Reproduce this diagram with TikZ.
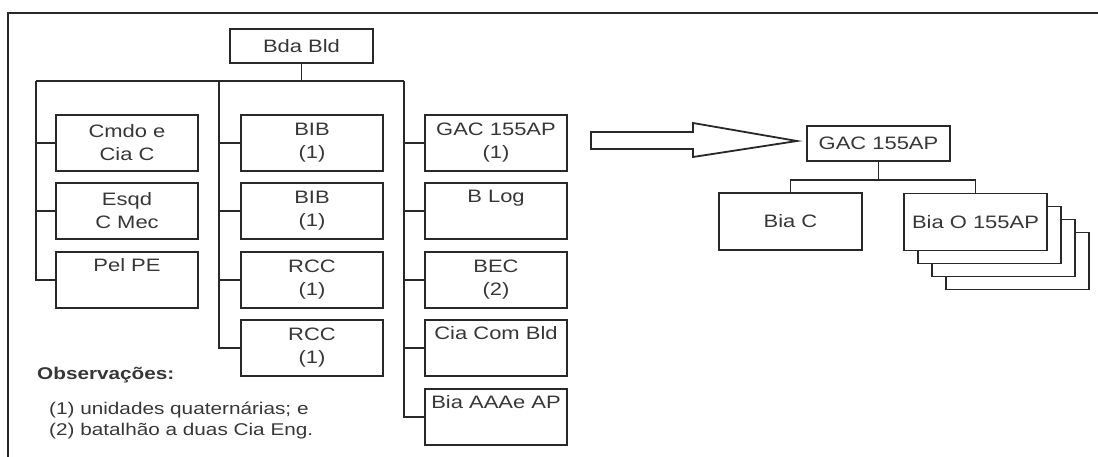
\documentclass[tikz,border=0pt]{standalone}
\usepackage{fontspec}
\setmainfont{Liberation Sans}[FakeStretch=1.22]
\definecolor{inkc}{RGB}{40,40,40}
\definecolor{txtc}{RGB}{55,55,55}
\begin{document}
\begin{tikzpicture}[x=1pt,y=-1pt,
  ink/.style={draw=inkc},
  box/.style={ink, line width=1.8pt, fill=white, minimum width=142pt, minimum height=56pt,
    align=center, inner sep=0pt, text=txtc,
    font=\fontsize{18pt}{23pt}\selectfont},
  smallbox/.style={box, minimum height=34pt},
  wire/.style={ink, line width=1.5pt},
  note/.style={anchor=west, inner sep=0pt, text=txtc, font=\fontsize{17pt}{20pt}\selectfont}]
\useasboundingbox (0,0) rectangle (1098,457);
\draw[ink, line width=1.6pt] (8,457) -- (8,13) -- (1098,13);

% top
\node[smallbox, minimum width=143pt] (bda) at (301.5,46) {Bda Bld};
\coordinate (bL) at (36,81);
\coordinate (bM) at (219,81);
\coordinate (bR) at (404,81);

% left column
\node[box] (cmdo) at (127,143) {Cmdo e\\Cia C};
\node[box] (esqd) at (127,211) {Esqd\\C Mec};
\node[box] (pel)  at (127,280) {Pel PE\\\strut};
% middle column
\node[box] (bib1) at (312,143) {BIB\\(1)};
\node[box] (bib2) at (312,211) {BIB\\(1)};
\node[box] (rcc1) at (312,280) {RCC\\(1)};
\node[box] (rcc2) at (312,348) {RCC\\(1)};
% right column
\node[box] (gac)  at (496,143) {GAC 155AP\\(1)};
\node[box] (blog) at (496,211) {B Log\\\strut};
\node[box] (bec)  at (496,280) {BEC\\(2)};
\node[box] (ciac) at (496,348) {Cia Com Bld\\\strut};
\node[box] (bia)  at (496,417) {Bia AAAe AP\\\strut};

\draw[wire] (bL) -- (bR);
\draw[wire] (bda.south) -- (bda.south |- bL);
\draw[wire] (bL) |- (pel.west);
\draw[wire] (cmdo.west) -- (cmdo.west -| bL);
\draw[wire] (esqd.west) -- (esqd.west -| bL);
\draw[wire] (bM) |- (rcc2.west);
\draw[wire] (bib1.west) -- (bib1.west -| bM);
\draw[wire] (bib2.west) -- (bib2.west -| bM);
\draw[wire] (rcc1.west) -- (rcc1.west -| bM);
\draw[wire] (bR) |- (bia.west);
\draw[wire] (gac.west) -- (gac.west -| bR);
\draw[wire] (blog.west) -- (blog.west -| bR);
\draw[wire] (bec.west) -- (bec.west -| bR);
\draw[wire] (ciac.west) -- (ciac.west -| bR);

% notes
\node[note, font=\bfseries\fontsize{17pt}{20pt}\selectfont] (obs) at (37,375) {Observações:};
\node[note] (n1) at (49,410) {(1) unidades quaternárias; e};
\node[note] (n2) at (49,431) {(2) batalhão a duas Cia Eng.};

% big arrow
\draw[ink, line width=1.8pt, fill=white] (591,132) -- (693,132) -- (693,123) -- (797,141)
  -- (693,157) -- (693,149) -- (591,149) -- cycle;

% right diagram
\node[smallbox, minimum width=143pt, minimum height=35pt] (gac2) at (878.5,143.5) {GAC 155AP};
\node[box, minimum width=143pt, minimum height=57pt] (biac) at (790.5,221.5) {Bia C};
\node[box, minimum width=143pt, minimum height=57pt] (s3) at (1017.5,261) {};
\node[box, minimum width=143pt, minimum height=57pt] (s2) at (1003.5,248) {};
\node[box, minimum width=143pt, minimum height=57pt] (s1) at (989.5,235) {};
\node[box, minimum width=143pt, minimum height=57pt] (biao) at (975.5,222) {Bia O 155AP};
\draw[wire] (gac2.south) -- ++(0,18) coordinate (j);
\draw[wire] (biac.north) |- (j) -| (biao.north);
\end{tikzpicture}
\end{document}
